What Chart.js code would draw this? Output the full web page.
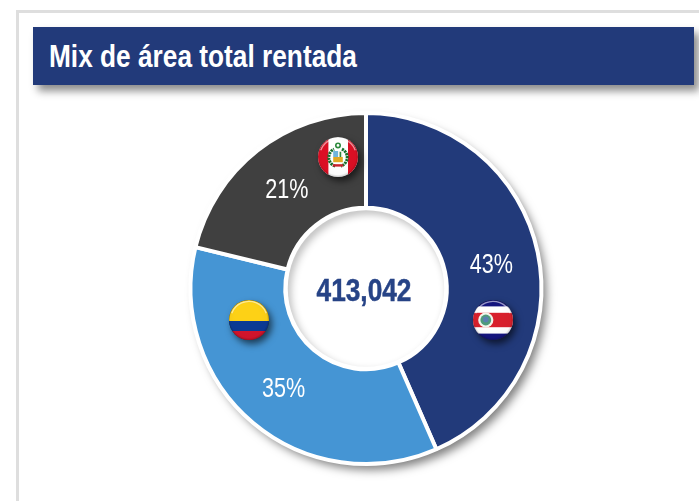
<!DOCTYPE html>
<html lang="es">
<head>
<meta charset="utf-8">
<title>Mix de área total rentada</title>
<style>
html,body{margin:0;padding:0;background:#fff;width:699px;height:501px;overflow:hidden}
#panel{position:absolute;left:16px;top:10px;width:720px;height:560px;border:3px solid #dedede;box-sizing:border-box}
#head{position:absolute;left:33px;top:27px;width:661px;height:58px;background:#223a7a;box-shadow:5px 6px 8px rgba(0,0,0,.45)}
#head span{position:absolute;left:16px;top:12px;font:bold 31px "Liberation Sans",Arial,sans-serif;color:#fff;white-space:nowrap;transform-origin:0 50%;transform:scaleX(.847)}
#wrap{position:absolute;left:0;top:0;width:699px;height:501px}
</style>
</head>
<body>
<div id="panel"></div>
<div id="head"><span id="ttl">Mix de área total rentada</span></div>
<div id="wrap"><canvas id="c" width="699" height="501"></canvas></div>
<script src="https://cdn.jsdelivr.net/npm/chart.js@4/dist/chart.umd.js"></script>
<script>
const countries = ["Costa Rica", "Colombia", "Perú"];
const shares = [43, 35, 21];
const sliceColors = ["#223a7a", "#4595d4", "#404040"];
const totalLabel = "413,042";
const flagSpots = [[493, 320], [249, 320], [338, 157]];

function disc(ctx, x, y, r) { ctx.beginPath(); ctx.arc(x, y, r, 0, Math.PI * 2); }

function band(ctx, x, y, r, x0, y0, w, h, color) {
  ctx.fillStyle = color;
  ctx.fillRect(x + x0 * r, y + y0 * r, w * r, h * r);
}

function drawCostaRica(ctx, x, y, r) {
  band(ctx, x, y, r, -1, -1, 2, 2, "#14147e");
  band(ctx, x, y, r, -1, -.68, 2, 1.36, "#ffffff");
  band(ctx, x, y, r, -1, -.36, 2, .72, "#d8202c");
  ctx.fillStyle = "#f1f3ea"; disc(ctx, x - .36 * r, y, .38 * r); ctx.fill();
  ctx.fillStyle = "#4f9a7c"; disc(ctx, x - .36 * r, y, .27 * r); ctx.fill();
  ctx.fillStyle = "#5a7fb0"; disc(ctx, x - .36 * r, y - .03 * r, .14 * r); ctx.fill();
}

function drawColombia(ctx, x, y, r) {
  band(ctx, x, y, r, -1, -1, 2, 1.05, "#fdd116");
  band(ctx, x, y, r, -1, .05, 2, .5, "#0b3a94");
  band(ctx, x, y, r, -1, .55, 2, .45, "#d3142c");
}

function drawPeru(ctx, x, y, r) {
  band(ctx, x, y, r, -1, -1, 2, 2, "#ffffff");
  band(ctx, x, y, r, -1, -1, .52, 2, "#dc0f24");
  band(ctx, x, y, r, .5, -1, .5, 2, "#dc0f24");
  ctx.save();
  ctx.strokeStyle = "#17702c"; ctx.lineWidth = 3;
  ctx.setLineDash([2.2, .8]);
  ctx.beginPath(); ctx.arc(x, y + .02 * r, .46 * r, Math.PI * .6, Math.PI * 1.36); ctx.stroke();
  ctx.beginPath(); ctx.arc(x, y + .02 * r, .46 * r, -Math.PI * .36, Math.PI * .4); ctx.stroke();
  ctx.restore();
  band(ctx, x, y, r, -.24, -.3, .24, .3, "#6fb4dc");
  band(ctx, x, y, r, 0, -.3, .24, .3, "#f4f4ee");
  band(ctx, x, y, r, -.24, 0, .48, .26, "#e0a824");
  band(ctx, x, y, r, .08, -.26, .08, .26, "#2c8a3c");
  band(ctx, x, y, r, -.26, .36, .52, .12, "#c8202c");
  ctx.strokeStyle = "#2c8a3c"; ctx.lineWidth = 1.6;
  disc(ctx, x, y - .58 * r, .11 * r); ctx.stroke();
}

const flagPainters = [drawCostaRica, drawColombia, drawPeru];

function drawFlag(ctx, spot, paint) {
  const [x, y] = spot, r = 20;
  ctx.save();
  ctx.shadowColor = "rgba(0,0,0,.6)";
  ctx.shadowBlur = 7; ctx.shadowOffsetX = 3; ctx.shadowOffsetY = 4;
  ctx.fillStyle = "#333"; disc(ctx, x, y, r); ctx.fill();
  ctx.restore();
  ctx.save();
  disc(ctx, x, y, r); ctx.clip();
  paint(ctx, x, y, r);
  const shade = ctx.createRadialGradient(x - 2, y - 4, r * .6, x, y, r);
  shade.addColorStop(0, "rgba(0,0,0,0)");
  shade.addColorStop(.8, "rgba(0,0,0,.02)");
  shade.addColorStop(1, "rgba(0,0,0,.2)");
  ctx.fillStyle = shade; ctx.fillRect(x - r, y - r, r * 2, r * 2);
  ctx.strokeStyle = "rgba(255,255,255,.55)"; ctx.lineWidth = 1.4;
  ctx.beginPath(); ctx.arc(x, y, r - 1.4, Math.PI * 1.12, Math.PI * 1.88); ctx.stroke();
  ctx.restore();
}

function squeezedText(ctx, text, x, y, font, color, sx, weightPx) {
  ctx.save();
  ctx.translate(x, y); ctx.scale(sx, 1);
  ctx.font = font; ctx.fillStyle = color;
  ctx.textAlign = "center"; ctx.textBaseline = "middle";
  ctx.fillText(text, 0, 0);
  if (weightPx) {
    ctx.strokeStyle = color; ctx.lineWidth = weightPx;
    ctx.strokeText(text, 0, 0);
  }
  ctx.restore();
}

const ringShadow = {
  id: "ringShadow",
  beforeDatasetsDraw(chart) {
    const a = chart.getDatasetMeta(0).data[0];
    if (!a) return;
    const ctx = chart.ctx;
    ctx.save();
    ctx.shadowColor = "rgba(0,0,0,.5)";
    ctx.shadowBlur = 10; ctx.shadowOffsetX = 5; ctx.shadowOffsetY = 6;
    ctx.fillStyle = "#fff";
    disc(ctx, a.x, a.y, a.outerRadius);
    ctx.fill();
    ctx.restore();
  }
};

const overlays = {
  id: "overlays",
  afterDatasetsDraw(chart) {
    const ctx = chart.ctx, meta = chart.getDatasetMeta(0);
    const a = meta.data[0];
    const holeR = a.innerRadius + 1;
    ctx.save();
    ctx.fillStyle = "#fff";
    disc(ctx, a.x, a.y, holeR); ctx.fill();
    disc(ctx, a.x, a.y, holeR - 3.5); ctx.clip();
    ctx.shadowColor = "rgba(0,0,0,.32)";
    ctx.shadowBlur = 9; ctx.shadowOffsetX = 3; ctx.shadowOffsetY = 4;
    ctx.strokeStyle = "#fff"; ctx.lineWidth = 8;
    disc(ctx, a.x, a.y, holeR + 1.5); ctx.stroke();
    ctx.restore();
    flagSpots.forEach((s, i) => drawFlag(ctx, s, flagPainters[i]));
    meta.data.forEach((el, i) => {
      const p = el.tooltipPosition();
      squeezedText(ctx, shares[i] + "%", p.x, p.y + 3, '27px "Liberation Sans",Arial,sans-serif', "#ffffff", .8);
    });
    squeezedText(ctx, totalLabel, a.x - 2, a.y + 4, 'bold 32px "Liberation Sans",Arial,sans-serif', "#264386", .82, .5);
  }
};

new Chart(document.getElementById("c"), {
  type: "doughnut",
  data: {
    labels: countries,
    datasets: [{
      data: shares,
      backgroundColor: sliceColors,
      borderColor: "#ffffff",
      borderWidth: 4,
      hoverOffset: 0
    }]
  },
  options: {
    responsive: false,
    animation: false,
    cutout: "46%",
    layout: { padding: { left: 33, top: 111, bottom: 35, right: 0 } },
    plugins: { legend: { display: false }, tooltip: { enabled: false }, title: { display: false } }
  },
  plugins: [ringShadow, overlays]
});
</script>
</body>
</html>
